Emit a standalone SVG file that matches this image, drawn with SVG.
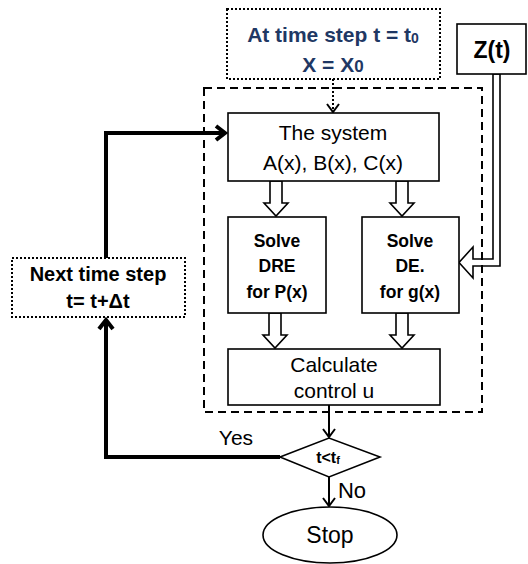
<svg xmlns="http://www.w3.org/2000/svg" width="528" height="564" viewBox="0 0 528 564">
<style>
.box{fill:#fff;stroke:#000;stroke-width:1.6}
.t{font-family:"Liberation Sans",Arial,sans-serif;fill:#000;text-anchor:middle}
.b{font-weight:bold}
.blue{fill:#1f3864}
.blk{fill:#fff;stroke:#000;stroke-width:1.6;stroke-linejoin:miter}
.ln{fill:none;stroke:#000;stroke-width:2}
.thick{fill:none;stroke:#000;stroke-width:4}
</style>
<rect width="528" height="564" fill="#fff"/>
<g id="connectors">
  <path class="blk" d="M493,74 H500 V266 H473 V278 L459,262.5 L473,247 V259 H493 Z" style="fill:none"/>
  <path d="M333,79 V111" fill="none" stroke="#000" stroke-width="2" stroke-dasharray="2 2"/>
  <polyline class="ln" points="327,104 333,112 339,104"/>
  <polygon class="blk" points="270,181 282,181 282,203 288,203 276,216 264,203 270,203"/>
  <polygon class="blk" points="396,181 408,181 408,203 414,203 402,216 390,203 396,203"/>
  <polygon class="blk" points="269,313 281,313 281,335 287,335 275,348 263,335 269,335"/>
  <polygon class="blk" points="396,313 408,313 408,335 414,335 402,348 390,335 396,335"/>
  <path class="ln" d="M329,405 V437"/>
  <polyline class="ln" points="323,429 329,437 335,429"/>
  <path class="ln" d="M329,477 V506"/>
  <polyline class="ln" points="323,498 329,506 335,498"/>
  <path class="thick" d="M280,457 H106 V321"/>
  <polyline class="thick" points="99,329 106,320 113,329"/>
  <path class="thick" d="M106,258 V133 H225"/>
  <polyline class="thick" points="216,126 225,133 216,140"/>
  <text class="t" x="236" y="445" font-size="21">Yes</text>
  <text class="t" x="352" y="498" font-size="22">No</text>
</g>
<g id="container">
  <rect x="204" y="88" width="278" height="324" fill="none" stroke="#000" stroke-width="2" stroke-dasharray="8 5"/>
</g>
<g id="start">
  <rect x="227" y="9" width="213" height="70" fill="#fff" stroke="#000" stroke-width="2" stroke-dasharray="2 2"/>
  <text class="t b blue" x="333" y="42" font-size="21">At time step t = t<tspan font-size="14" dy="1">0</tspan></text>
  <text class="t b blue" x="333" y="72" font-size="21">X = X<tspan font-size="17">0</tspan></text>
</g>
<g id="zt">
  <rect class="box" x="457" y="24" width="69" height="50"/>
  <text class="t b" x="492" y="58" font-size="23">Z(t)</text>
</g>
<g id="system">
  <rect class="box" x="228" y="113" width="211" height="68"/>
  <text class="t" x="333" y="140" font-size="21">The system</text>
  <text class="t" x="333" y="170" font-size="21">A(x), B(x), C(x)</text>
</g>
<g id="solve-dre">
  <rect class="box" x="228" y="217" width="98" height="96"/>
  <text class="t b" x="277" y="247" font-size="17.5">Solve</text>
  <text class="t b" x="277" y="272" font-size="17.5">DRE</text>
  <text class="t b" x="277" y="298" font-size="17.5">for P(x)</text>
</g>
<g id="solve-de">
  <rect class="box" x="362" y="217" width="97" height="96"/>
  <text class="t b" x="410" y="247" font-size="17.5">Solve</text>
  <text class="t b" x="410" y="272" font-size="17.5">DE.</text>
  <text class="t b" x="410" y="298" font-size="17.5">for g(x)</text>
</g>
<g id="calculate">
  <rect class="box" x="228" y="349" width="212" height="56"/>
  <text class="t" x="334" y="372" font-size="21">Calculate</text>
  <text class="t" x="334" y="398" font-size="21">control u</text>
</g>
<g id="next">
  <rect x="12" y="258" width="173" height="59" fill="#fff" stroke="#000" stroke-width="2" stroke-dasharray="2 2"/>
  <text class="t b" x="98" y="281" font-size="20">Next time step</text>
  <text class="t b" x="98" y="308" font-size="20">t= t+Δt</text>
</g>
<g id="decision">
  <polygon class="box" points="280,457 329,438 380,457 329,477"/>
  <text class="t b" x="328" y="463" font-size="16">t&lt;t<tspan font-size="11" dy="1">f</tspan></text>
</g>
<g id="stop">
  <ellipse class="box" cx="330" cy="535" rx="67" ry="28"/>
  <text class="t" x="330" y="543" font-size="23">Stop</text>
</g>
</svg>
